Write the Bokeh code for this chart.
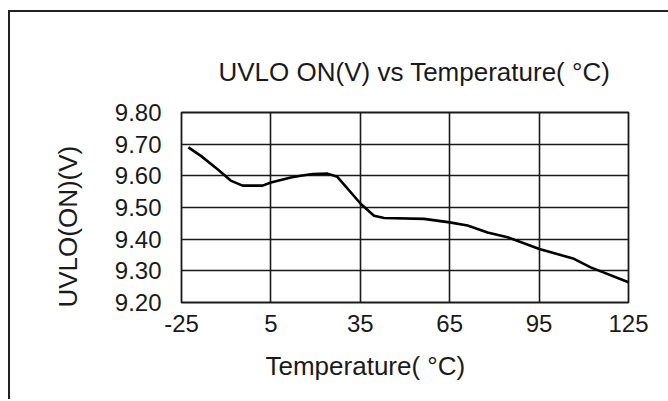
from bokeh.plotting import figure
from bokeh.models import Range1d, FixedTicker, PrintfTickFormatter, Title
from bokeh.embed import file_html
from bokeh.resources import INLINE

# ---- data ----
temperature = [-22.7, -18.5, -12.9, -8.5, -4.5, 2.2, 5.0, 11.7, 15.0, 19.0, 24.0,
               27.3, 35.2, 39.6, 43.0, 56.4, 65.0, 71.0, 77.7, 84.4, 95.1,
               106.7, 112.3, 125.0]
uvlo_on = [9.690, 9.663, 9.621, 9.585, 9.569, 9.569, 9.579, 9.595, 9.600, 9.606, 9.607,
           9.597, 9.511, 9.474, 9.467, 9.464, 9.453, 9.443, 9.421, 9.406, 9.369,
           9.338, 9.311, 9.264]
x_ticks = [-25, 5, 35, 65, 95, 125]
y_ticks = [9.20, 9.30, 9.40, 9.50, 9.60, 9.70, 9.80]

title_text = "UVLO ON(V) vs Temperature( °C)"
x_title = "Temperature( °C)"
y_title = "UVLO(ON)(V)"

FONT = "Liberation Sans"
INK = "#1a1a1a"

p = figure(output_backend="svg", toolbar_location=None,
           frame_width=447, frame_height=190,
           min_border_left=171, min_border_right=47,
           min_border_top=100, min_border_bottom=99,
           x_range=Range1d(-25, 125), y_range=Range1d(9.2, 9.8),
           background_fill_color="white", border_fill_color="white")

# outer picture frame: only its left and top edges are visible in the reference
p.styles = {"margin-left": "10px", "margin-top": "12px",
            "box-shadow": "-2px -2px 0 0 #222"}

p.line(temperature, uvlo_on, line_color="black", line_width=2.6)

p.outline_line_color = INK
p.outline_line_width = 1.8

for g in (p.xgrid, p.ygrid):
    g.grid_line_color = INK
    g.grid_line_width = 1.6
p.xgrid.ticker = FixedTicker(ticks=x_ticks)
p.ygrid.ticker = FixedTicker(ticks=y_ticks)

p.xaxis.ticker = FixedTicker(ticks=x_ticks)
p.yaxis.ticker = FixedTicker(ticks=y_ticks)
p.xaxis.formatter = PrintfTickFormatter(format="%d")
p.yaxis.formatter = PrintfTickFormatter(format="%.2f")

for ax in (p.xaxis, p.yaxis):
    ax.axis_line_color = None
    ax.major_tick_line_color = None
    ax.minor_tick_line_color = None
    ax.major_tick_out = 0
    ax.major_tick_in = 0
    ax.major_label_text_font = FONT
    ax.major_label_text_font_size = "24px"
    ax.major_label_text_color = INK
p.xaxis.major_label_standoff = 12
p.yaxis.major_label_standoff = 20

p.add_layout(Title(text=title_text, align="left", offset=37, standoff=52,
                   text_font=FONT, text_font_size="26px", text_color=INK,
                   text_font_style="normal"), "above")
p.add_layout(Title(text=x_title, align="left", offset=84, standoff=29,
                   text_font=FONT, text_font_size="26px", text_color=INK,
                   text_font_style="normal"), "below")
p.add_layout(Title(text=y_title, align="left", offset=-5, standoff=58,
                   text_font=FONT, text_font_size="26px", text_color=INK,
                   text_font_style="normal"), "left")

open("out.html", "w").write(file_html(p, INLINE))
